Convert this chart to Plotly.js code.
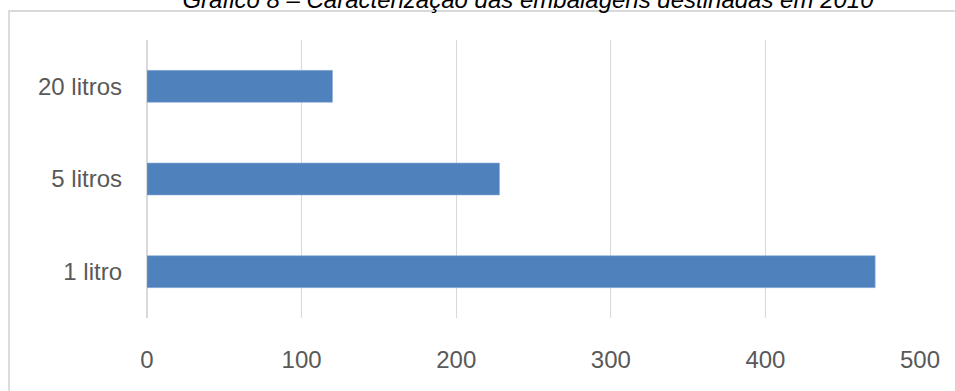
<!DOCTYPE html>
<html>
<head>
<meta charset="utf-8">
<script src="https://cdn.plot.ly/plotly-3.0.1.min.js"></script>
<style>
  html, body { margin: 0; padding: 0; background: #fff; }
  #chart { width: 955px; height: 391px; }
</style>
</head>
<body>
<div id="chart"></div>
<script>
// Packaging sizes (bottom to top) and quantities disposed of in 2010
const categories = ['1 litro', '5 litros', '20 litros'];
const quantities = [471, 228, 120];
const xTicks = [0, 100, 200, 300, 400, 500];
const chartTitle = 'Gráfico 8 – Caracterização das embalagens destinadas em 2010';

const W = 955, H = 391;
const M = { l: 147, r: 35, t: 40, b: 73 };
const pw = W - M.l - M.r, ph = H - M.t - M.b;
// pixel -> paper helpers for the outer frame
const px = v => (v - M.l) / pw;
const py = v => (H - M.b - v) / ph;

const trace = {
  type: 'bar',
  orientation: 'h',
  y: categories,
  x: quantities,
  marker: { color: '#4f81bd', line: { color: '#8eaedb', width: 0.6 } },
  hoverinfo: 'x+y'
};

const layout = {
  width: W,
  height: H,
  margin: M,
  paper_bgcolor: '#ffffff',
  plot_bgcolor: '#ffffff',
  showlegend: false,
  bargap: 0.655,
  font: { family: 'Liberation Sans, Arial, sans-serif', size: 24, color: '#595959' },
  title: {
    text: chartTitle,
    font: { family: 'Liberation Sans, Arial, sans-serif', size: 24, color: '#000000', style: 'italic' },
    x: 528 / W,
    xanchor: 'center',
    xref: 'container',
    yref: 'container',
    y: 1 - 8 / H,
    yanchor: 'bottom'
  },
  xaxis: {
    range: [0, 500],
    tickvals: xTicks,
    ticktext: xTicks.map(String),
    showgrid: true,
    gridcolor: '#d9d9d9',
    gridwidth: 1.3,
    zeroline: true,
    zerolinecolor: '#d9d9d9',
    zerolinewidth: 1.3,
    showline: false,
    ticks: '',
    ticklabelstandoff: 25,
    tickfont: { size: 24, color: '#595959' },
    fixedrange: true
  },
  yaxis: {
    type: 'category',
    categoryorder: 'array',
    categoryarray: categories,
    showgrid: false,
    zeroline: false,
    showline: false,
    ticks: '',
    ticklabelstandoff: 24,
    tickfont: { size: 24, color: '#595959' },
    fixedrange: true
  },
  shapes: [{
    type: 'rect',
    xref: 'paper', yref: 'paper',
    x0: px(9), x1: px(965),
    y0: py(400), y1: py(11),
    line: { color: '#d9d9d9', width: 1.8 },
    fillcolor: 'rgba(0,0,0,0)',
    layer: 'below'
  }]
};

Plotly.newPlot('chart', [trace], layout, { staticPlot: true, displayModeBar: false });
</script>
</body>
</html>
